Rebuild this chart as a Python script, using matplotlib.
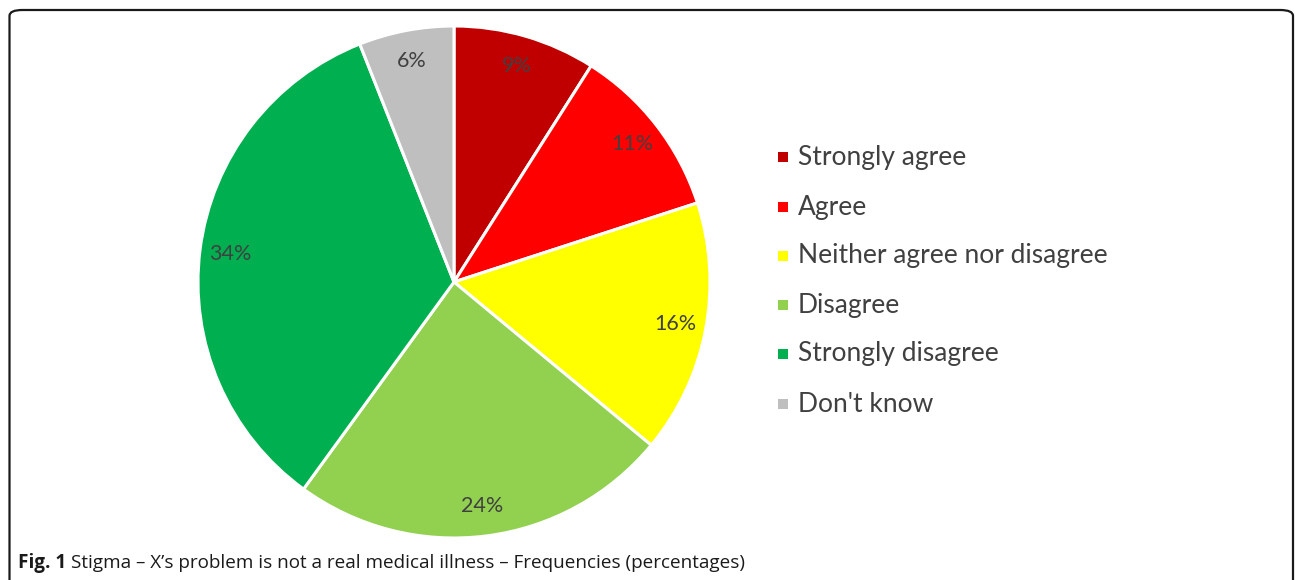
import matplotlib.pyplot as plt
from matplotlib.patches import FancyBboxPatch, Rectangle

labels = ['Strongly agree', 'Agree', 'Neither agree nor disagree',
          'Disagree', 'Strongly disagree', "Don't know"]
values = [9, 11, 16, 24, 34, 6]
colors = ['#C00000', '#FF0000', '#FFFF00', '#92D050', '#00B050', '#BFBFBF']

W, H = 1295, 580
fig = plt.figure(figsize=(W / 100, H / 100), dpi=100)

# rounded frame around the figure (bottom runs off the image)
frame = FancyBboxPatch((9.5 / W, -20 / H), (1293 - 9.5) / W, (570 + 20) / H,
                       boxstyle='round,pad=0,rounding_size=0.01',
                       transform=fig.transFigure, facecolor='none',
                       edgecolor='#1a1a1a', linewidth=1.6)
fig.patches.append(frame)

cx, cy, r = 454, 282, 256
ax = fig.add_axes([(cx - r) / W, (H - cy - r) / H, 2 * r / W, 2 * r / H])
wedges, texts, autotexts = ax.pie(
    values, colors=colors, startangle=90, counterclock=False,
    autopct='%1.0f%%', pctdistance=0.88,
    wedgeprops=dict(edgecolor='white', linewidth=2.2),
    textprops=dict(color='#404040', fontsize=15.5, family='Lato'))
ax.set_xlim(-1, 1)
ax.set_ylim(-1, 1)
ax.set_aspect('equal')
ax.axis('off')

# legend
ys = [157, 207, 256, 305, 354, 404]
for lab, col, y in zip(labels, colors, ys):
    fig.patches.append(Rectangle((778 / W, (H - y - 5) / H), 10 / W, 10 / H,
                                 transform=fig.transFigure, facecolor=col,
                                 edgecolor='none'))
    fig.text(798 / W, (H - y) / H, lab, fontsize=19, color='#404040',
             family='Lato', va='center', ha='left')

# caption
fig.text(18 / W, (H - 563) / H, 'Fig. 1', fontsize=13.6, fontweight='bold',
         family='Open Sans', color='#1a1a1a', va='center', ha='left')
fig.text(71 / W, (H - 563) / H,
         'Stigma \u2013 X\u2019s problem is not a real medical illness \u2013 Frequencies (percentages)',
         fontsize=13.6, family='Open Sans', color='#1a1a1a', va='center', ha='left')

fig.savefig('out.png', dpi=100)
